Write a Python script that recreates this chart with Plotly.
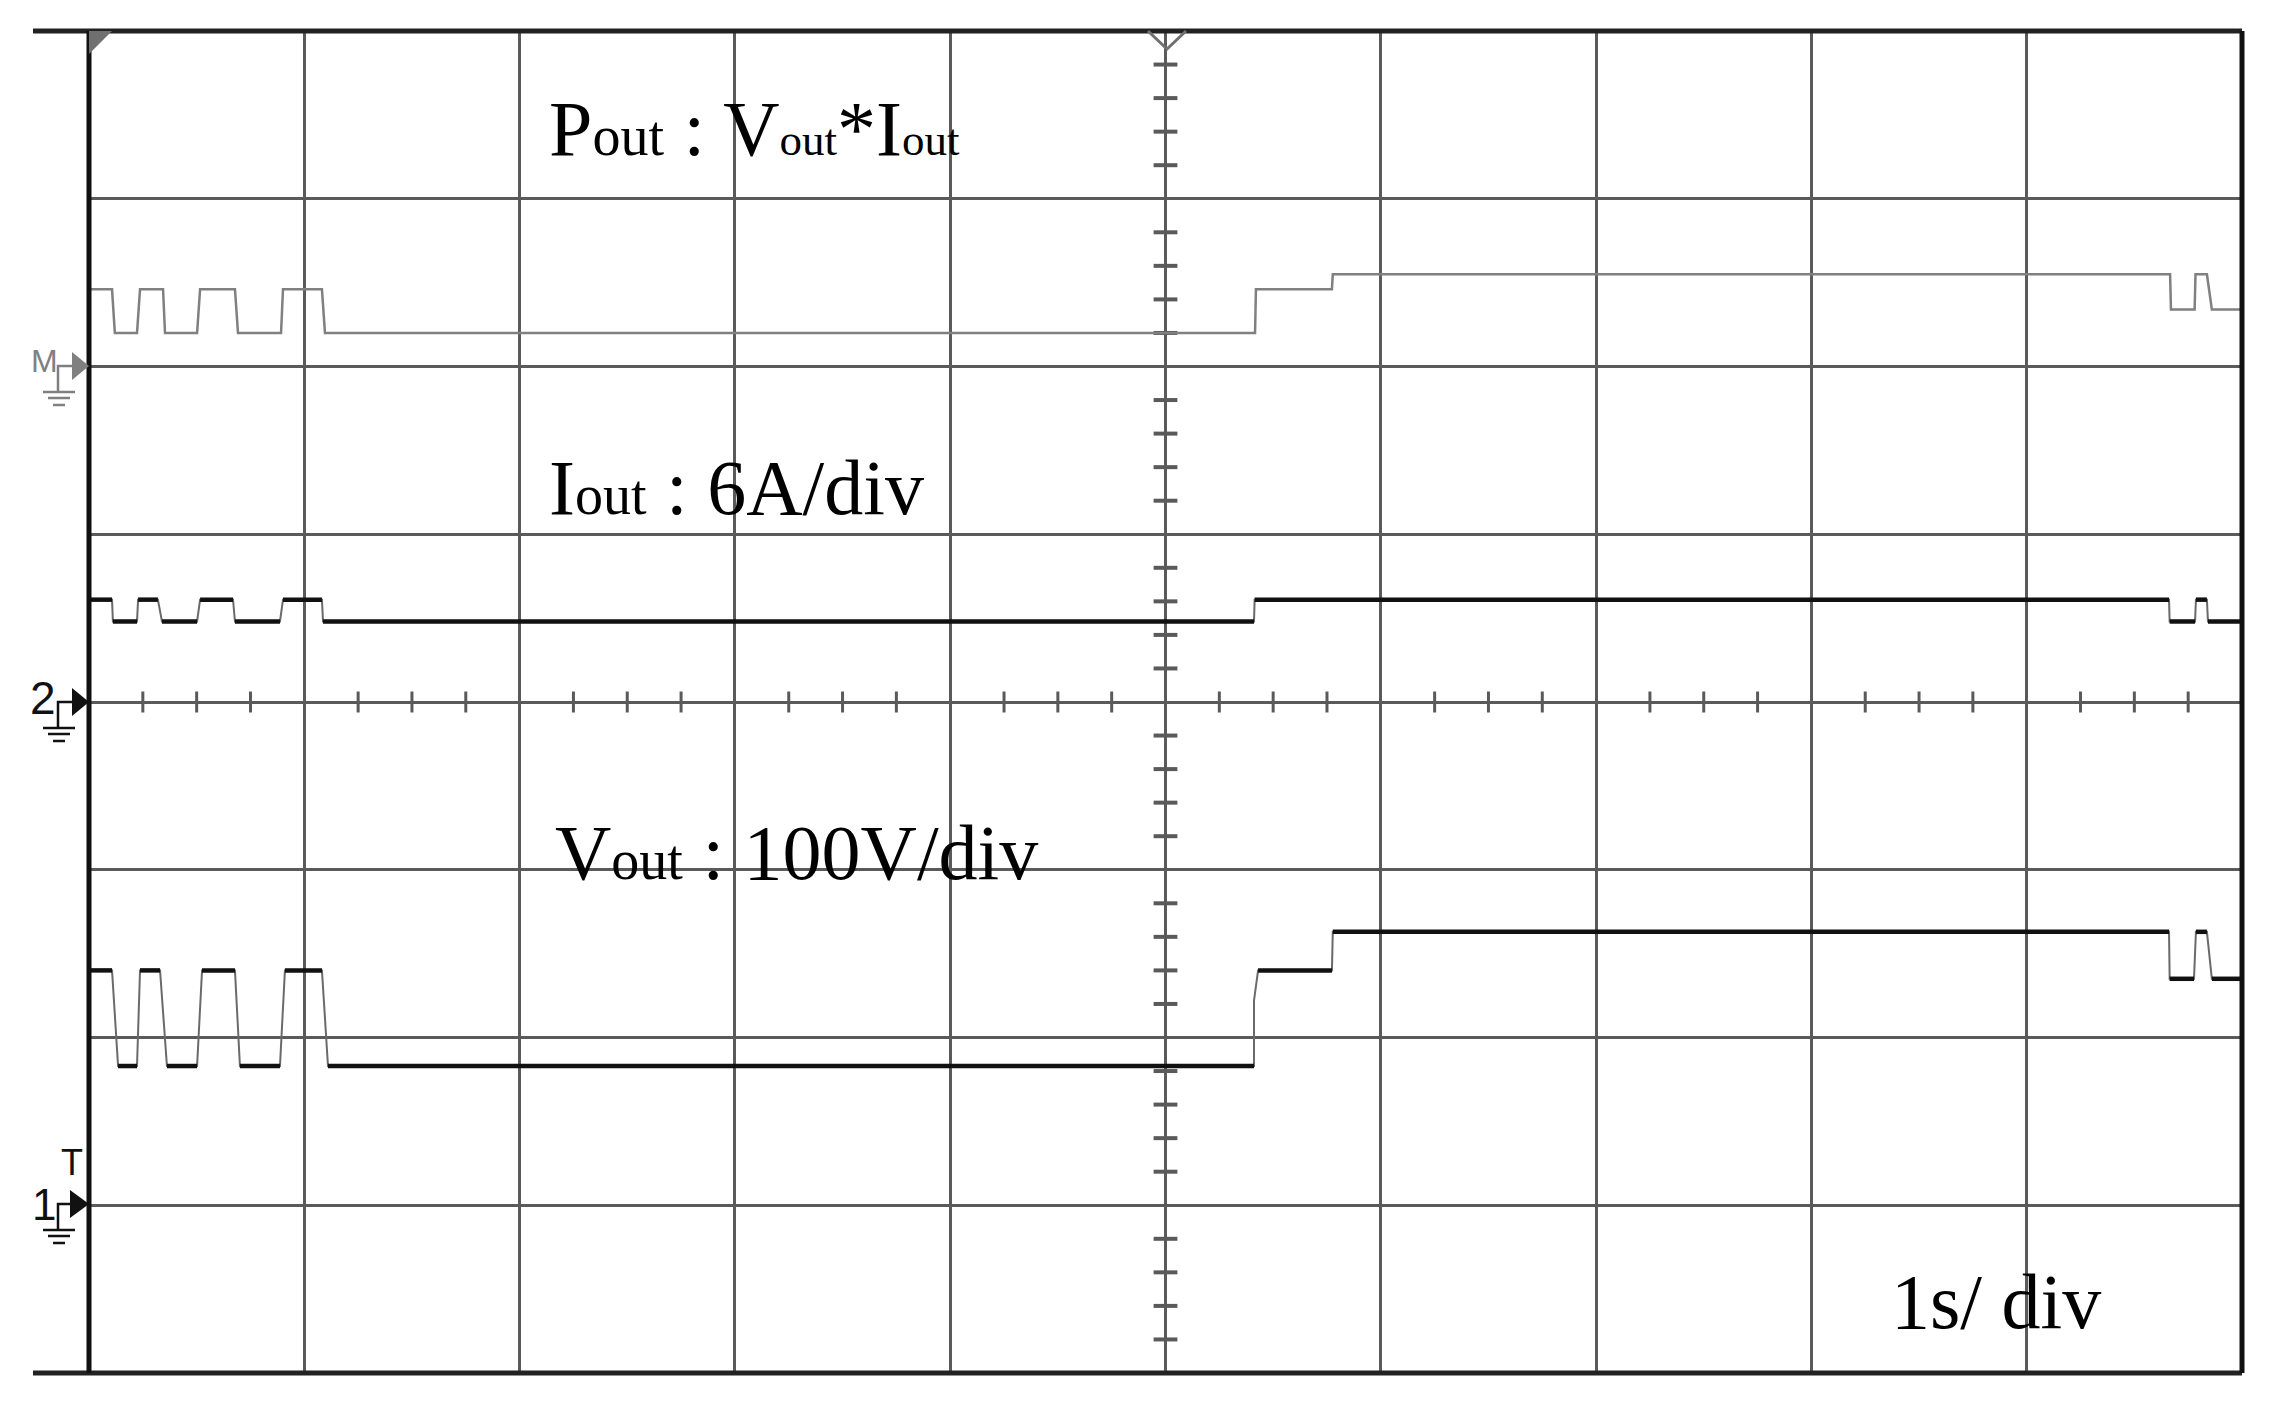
import plotly.graph_objects as go

# time in seconds (1 s/div), trace levels in screen divisions from the centre line
pout_t = [0, 0.107, 0.120, 0.223, 0.237, 0.344, 0.353, 0.502, 0.516, 0.678, 0.692, 0.892, 0.901,
          1.082, 1.096, 5.416, 5.420, 5.773, 5.777, 9.666, 9.670, 9.780, 9.784, 9.837, 9.860, 10.0]
pout_y = [2.46, 2.46, 2.20, 2.20, 2.46, 2.46, 2.20, 2.20, 2.46, 2.46, 2.20, 2.20, 2.46,
          2.46, 2.20, 2.20, 2.46, 2.46, 2.55, 2.55, 2.34, 2.34, 2.55, 2.55, 2.34, 2.34]

iout_t = [0, 0.107, 0.111, 0.223, 0.228, 0.320, 0.339, 0.502, 0.516, 0.669, 0.678, 0.887, 0.901,
          1.082, 1.087, 5.411, 5.414, 9.661, 9.664, 9.782, 9.786, 9.837, 9.842, 10.0]
iout_y = [0.61, 0.61, 0.48, 0.48, 0.61, 0.61, 0.48, 0.48, 0.61, 0.61, 0.48, 0.48, 0.61,
          0.61, 0.48, 0.48, 0.61, 0.61, 0.48, 0.48, 0.61, 0.61, 0.48, 0.48]

vout_t = [0, 0.107, 0.135, 0.223, 0.237, 0.330, 0.362, 0.502, 0.525, 0.678, 0.701, 0.887, 0.910,
          1.082, 1.110, 5.411, 5.411, 5.430, 5.773, 5.777, 9.661, 9.664, 9.777, 9.786, 9.837, 9.860, 10.0]
vout_y = [-1.60, -1.60, -2.17, -2.17, -1.60, -1.60, -2.17, -2.17, -1.60, -1.60, -2.17, -2.17, -1.60,
          -1.60, -2.17, -2.17, -1.78, -1.60, -1.60, -1.37, -1.37, -1.65, -1.65, -1.37, -1.37, -1.65, -1.65]

GRID = '#5a5a5a'
SUB = "<span style='font-size:56px'>out</span>"
SUB_S = "<span style='font-size:45px'>out</span>"

# page pixel -> paper coords (plot area is 89..2242 x 31..1373 on the page)
def px(p):
    return (p - 89) / 2153


def py(p):
    return (1373 - p) / 1342


def flat_parts(t, y):
    xs, ys = [], []
    for i in range(len(t) - 1):
        if y[i] == y[i + 1]:
            xs += [t[i], t[i + 1], None]
            ys += [y[i], y[i + 1], None]
    return xs, ys


fig = go.Figure()

# centre graticule ticks
hx = [k / 4 for k in range(1, 40) if k % 4]
vy = [k / 5 - 4 for k in range(1, 40) if k % 5]
fig.add_trace(go.Scatter(x=hx, y=[0] * len(hx), mode='markers', hoverinfo='skip',
                         marker=dict(symbol='line-ns', size=15, line=dict(width=3, color=GRID))))
fig.add_trace(go.Scatter(x=[5] * len(vy), y=vy, mode='markers', hoverinfo='skip',
                         marker=dict(symbol='line-ew', size=17, line=dict(width=4, color=GRID))))

fig.add_trace(go.Scatter(x=pout_t, y=pout_y, mode='lines', name='Pout',
                         line=dict(color='#808080', width=2.5)))
for t, y in [(iout_t, iout_y), (vout_t, vout_y)]:
    fig.add_trace(go.Scatter(x=t, y=y, mode='lines', line=dict(color='#6a6a6a', width=2)))
    fx, fy = flat_parts(t, y)
    fig.add_trace(go.Scatter(x=fx, y=fy, mode='lines', line=dict(color='#111111', width=4.5)))

shapes = []
# frame: top and bottom run out to the left past the marker column
for yy in (0, 1):
    shapes.append(dict(type='line', xref='paper', yref='paper', x0=px(33), x1=1, y0=yy, y1=yy,
                       line=dict(color='#222222', width=5)))
for xx in (0, 1):
    shapes.append(dict(type='line', xref='paper', yref='paper', x0=xx, x1=xx, y0=0, y1=1,
                       line=dict(color='#111111', width=5)))
# corner flag and trigger position marker
shapes.append(dict(type='path', xref='paper', yref='paper', fillcolor='#707070', line=dict(width=0),
                   path=f'M{px(89)},{py(31)} L{px(112)},{py(31)} L{px(89)},{py(54)} Z'))
shapes.append(dict(type='path', xref='paper', yref='paper', line=dict(color='#707070', width=3),
                   path=f'M{px(1148)},{py(31)} L{px(1167)},{py(49)} L{px(1186)},{py(31)}'))


def ground_marker(y0, color, tri_x=72):
    out = [dict(type='path', xref='paper', yref='paper', line=dict(color=color, width=2.5),
                path=f'M{px(tri_x)},{py(y0)} L{px(58)},{py(y0)} L{px(58)},{py(y0 + 26)}'),
           dict(type='path', xref='paper', yref='paper', fillcolor=color, line=dict(width=0),
                path=f'M{px(tri_x)},{py(y0 - 14)} L{px(89)},{py(y0)} L{px(tri_x)},{py(y0 + 14)} Z')]
    for dy, a, b in [(26, 43, 75), (32, 48, 70), (39, 53, 65)]:
        out.append(dict(type='line', xref='paper', yref='paper', x0=px(a), x1=px(b),
                        y0=py(y0 + dy), y1=py(y0 + dy), line=dict(color=color, width=2.5)))
    return out


shapes += ground_marker(366, '#808080')
shapes += ground_marker(702, '#111111')
shapes += ground_marker(1204, '#111111', tri_x=70)

serif = dict(family='Liberation Serif', size=78, color='black')
annotations = [
    dict(x=2.127, y=3.416, text=f"P{SUB} : V{SUB_S}*I{SUB_S}", font=serif),
    dict(x=2.127, y=1.276, text=f"I{SUB} : 6A/div", font=serif),
    dict(x=2.155, y=-0.90, text=f"V{SUB} : 100V/div", font=serif),
    dict(x=8.36, y=-3.571, text="1s/ div", font=serif),
]
for a in annotations:
    a.update(xref='x', yref='y', xanchor='left', yanchor='middle', showarrow=False)

for label, xc, yc, size, color in [('M', 44, 361, 32, '#808080'), ('2', 43, 698, 46, '#111111'),
                                   ('1', 44, 1204, 44, '#111111'), ('T', 72, 1162, 36, '#111111')]:
    annotations.append(dict(xref='paper', yref='paper', x=px(xc), y=py(yc), text=label,
                            showarrow=False, xanchor='center', yanchor='middle',
                            font=dict(family='Liberation Sans', size=size, color=color)))

fig.update_layout(
    width=2254, height=1394,
    margin=dict(l=81, r=20, t=23, b=29),
    paper_bgcolor='white', plot_bgcolor='white',
    showlegend=False,
    shapes=shapes,
    annotations=annotations,
    xaxis=dict(range=[0, 10], dtick=1, tick0=0, showgrid=True, gridcolor=GRID, gridwidth=3,
               zeroline=False, showticklabels=False, ticks='', showline=False, fixedrange=True),
    yaxis=dict(range=[-4, 4], dtick=1, tick0=0, showgrid=True, gridcolor=GRID, gridwidth=3,
               zeroline=False, showticklabels=False, ticks='', showline=False, fixedrange=True),
)

fig.write_html("out.html")
